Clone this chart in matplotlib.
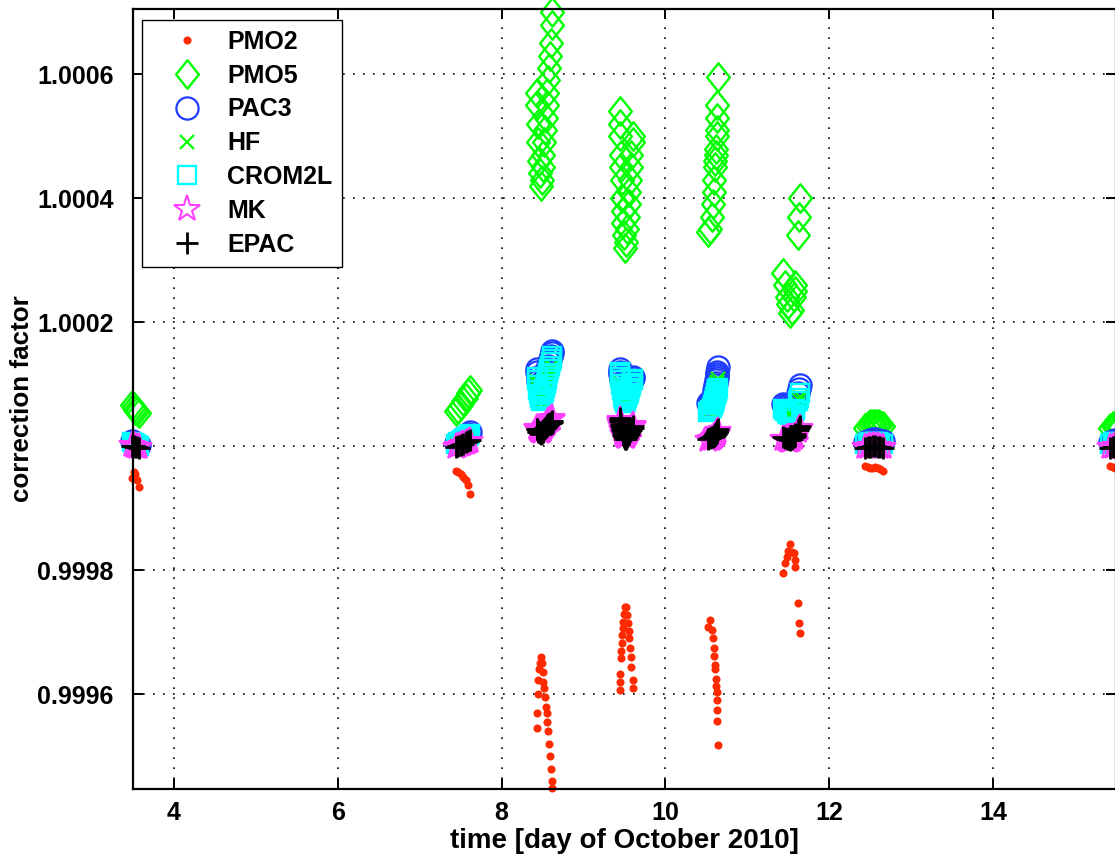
import matplotlib
matplotlib.use('Agg')
import matplotlib.pyplot as plt
from matplotlib.path import Path

plt.rcParams['font.family'] = ['Liberation Sans', 'DejaVu Sans']
plt.rcParams['font.weight'] = 'bold'
plt.rcParams['axes.labelweight'] = 'bold'

# ---------------- data ----------------
time_day = [
    3.49, 3.51, 3.53, 3.55, 3.57,
    7.44, 7.47, 7.50, 7.53, 7.56, 7.59, 7.61,
    8.430, 8.435, 8.440, 8.450, 8.460, 8.470, 8.480, 8.490, 8.500, 8.510, 8.520,
    8.530, 8.540, 8.550, 8.560, 8.570, 8.580, 8.590, 8.600, 8.610, 8.620,
    9.440, 9.443, 9.447, 9.455, 9.460, 9.464, 9.475, 9.480, 9.487, 9.492, 9.503,
    9.524, 9.536, 9.548, 9.555, 9.560, 9.569, 9.577, 9.585, 9.600, 9.607,
    10.524, 10.545, 10.569, 10.577, 10.590, 10.597, 10.602, 10.609, 10.614, 10.618,
    10.624, 10.628, 10.630, 10.634, 10.646,
    11.437, 11.461, 11.478, 11.495, 11.519, 11.544, 11.570, 11.576, 11.581, 11.617, 11.629, 11.645,
    12.44, 12.47, 12.50, 12.53, 12.56, 12.59, 12.62, 12.65,
    15.43, 15.46, 15.49, 15.52, 15.55,
]

pmo2 = [
    0.999948, 0.999959, 0.999955, 0.999945, 0.999934,
    0.999960, 0.999958, 0.999955, 0.999950, 0.999945, 0.999937, 0.999923,
    0.999545, 0.999570, 0.999600, 0.999623, 0.999640, 0.999650, 0.999660, 0.999650, 0.999636, 0.999620, 0.999610,
    0.999595, 0.999580, 0.999570, 0.999555, 0.999540, 0.999520, 0.999500, 0.999480, 0.999460, 0.999448,
    0.999606, 0.999620, 0.999632, 0.999658, 0.999670, 0.999682, 0.999695, 0.999706, 0.999717, 0.999729, 0.999740,
    0.999740, 0.999727, 0.999714, 0.999702, 0.999690, 0.999675, 0.999660, 0.999644, 0.999623, 0.999610,
    0.999709, 0.999720, 0.999703, 0.999691, 0.999675, 0.999661, 0.999647, 0.999641, 0.999625, 0.999613,
    0.999604, 0.999590, 0.999574, 0.999557, 0.999518,
    0.999796, 0.999811, 0.999821, 0.999831, 0.999842, 0.999830, 0.999828, 0.999816, 0.999805, 0.999747, 0.999714, 0.999698,
    0.999968, 0.999966, 0.999965, 0.999965, 0.999966, 0.999965, 0.999963, 0.999960,
    0.999968, 0.999966, 0.999965, 0.999964, 0.999963,
]

pmo5 = [
    1.000066, 1.000063, 1.000059, 1.000056, 1.000053,
    1.000056, 1.000060, 1.000066, 1.000072, 1.000078, 1.000085, 1.000090,
    1.000570, 1.000550, 1.000520, 1.000490, 1.000460, 1.000440, 1.000420, 1.000430, 1.000450, 1.000470, 1.000490,
    1.000510, 1.000530, 1.000550, 1.000570, 1.000590, 1.000610, 1.000630, 1.000650, 1.000680, 1.000700,
    1.000540, 1.000520, 1.000500, 1.000470, 1.000450, 1.000430, 1.000400, 1.000380, 1.000360, 1.000340, 1.000320,
    1.000330, 1.000350, 1.000370, 1.000390, 1.000410, 1.000430, 1.000450, 1.000470, 1.000490, 1.000500,
    1.000345, 1.000350, 1.000370, 1.000390, 1.000410, 1.000430, 1.000450, 1.000460, 1.000470, 1.000480,
    1.000500, 1.000510, 1.000530, 1.000550, 1.000595,
    1.000280, 1.000260, 1.000240, 1.000230, 1.000215, 1.000220, 1.000240, 1.000250, 1.000260, 1.000340, 1.000370, 1.000400,
    1.000030, 1.000033, 1.000035, 1.000036, 1.000036, 1.000035, 1.000034, 1.000032,
    1.000030, 1.000032, 1.000033, 1.000032, 1.000031,
]

pac3 = [
    1.000008, 1.000006, 1.000004, 1.000003, 1.000002,
    1.000005, 1.000008, 1.000011, 1.000014, 1.000017, 1.000020, 1.000022,
    1.000125, 1.000120, 1.000112, 1.000105, 1.000100, 1.000095, 1.000090, 1.000092, 1.000096, 1.000100, 1.000105,
    1.000110, 1.000115, 1.000120, 1.000125, 1.000130, 1.000135, 1.000140, 1.000145, 1.000150, 1.000153,
    1.000124, 1.000120, 1.000117, 1.000112, 1.000108, 1.000104, 1.000100, 1.000096, 1.000092, 1.000088, 1.000084,
    1.000084, 1.000088, 1.000092, 1.000095, 1.000098, 1.000101, 1.000104, 1.000107, 1.000110, 1.000112,
    1.000070, 1.000072, 1.000076, 1.000080, 1.000085, 1.000090, 1.000094, 1.000098, 1.000102, 1.000106,
    1.000110, 1.000113, 1.000116, 1.000120, 1.000127,
    1.000068, 1.000066, 1.000064, 1.000062, 1.000060, 1.000062, 1.000066, 1.000068, 1.000070, 1.000085, 1.000092, 1.000098,
    1.000006, 1.000008, 1.000010, 1.000011, 1.000011, 1.000010, 1.000009, 1.000008,
    1.000007, 1.000009, 1.000010, 1.000009, 1.000008,
]

hf = [
    1.000010, 1.000008, 1.000006, 1.000004, 1.000003,
    1.000004, 1.000006, 1.000008, 1.000010, 1.000011, 1.000013, 1.000015,
    1.000105, 1.000100, 1.000092, 1.000085, 1.000080, 1.000075, 1.000070, 1.000072, 1.000076, 1.000080, 1.000085,
    1.000090, 1.000095, 1.000100, 1.000105, 1.000110, 1.000114, 1.000118, 1.000122, 1.000126, 1.000130,
    1.000104, 1.000100, 1.000097, 1.000092, 1.000088, 1.000084, 1.000080, 1.000076, 1.000072, 1.000068, 1.000065,
    1.000066, 1.000069, 1.000072, 1.000075, 1.000078, 1.000081, 1.000084, 1.000087, 1.000090, 1.000093,
    1.000055, 1.000058, 1.000062, 1.000066, 1.000070, 1.000074, 1.000078, 1.000082, 1.000086, 1.000090,
    1.000094, 1.000098, 1.000101, 1.000104, 1.000108,
    1.000055, 1.000052, 1.000050, 1.000048, 1.000046, 1.000048, 1.000052, 1.000054, 1.000056, 1.000068, 1.000074, 1.000080,
    1.000006, 1.000008, 1.000010, 1.000011, 1.000011, 1.000010, 1.000009, 1.000008,
    1.000006, 1.000008, 1.000009, 1.000008, 1.000007,
]

crom2l = [
    1.000006, 1.000005, 1.000003, 1.000002, 1.000001,
    1.000003, 1.000006, 1.000009, 1.000012, 1.000015, 1.000017, 1.000019,
    1.000112, 1.000106, 1.000098, 1.000090, 1.000084, 1.000078, 1.000072, 1.000074, 1.000078, 1.000083, 1.000088,
    1.000094, 1.000100, 1.000106, 1.000112, 1.000118, 1.000124, 1.000130, 1.000135, 1.000140, 1.000145,
    1.000120, 1.000116, 1.000112, 1.000106, 1.000100, 1.000095, 1.000090, 1.000085, 1.000080, 1.000075, 1.000070,
    1.000072, 1.000077, 1.000082, 1.000086, 1.000090, 1.000094, 1.000098, 1.000102, 1.000106, 1.000108,
    1.000055, 1.000058, 1.000062, 1.000066, 1.000070, 1.000073, 1.000076, 1.000080, 1.000083, 1.000086,
    1.000088, 1.000090, 1.000091, 1.000092, 1.000094,
    1.000060, 1.000057, 1.000054, 1.000052, 1.000050, 1.000052, 1.000056, 1.000058, 1.000060, 1.000072, 1.000078, 1.000085,
    1.000003, 1.000005, 1.000006, 1.000007, 1.000007, 1.000006, 1.000005, 1.000004,
    1.000004, 1.000006, 1.000007, 1.000006, 1.000005,
]

mk = [
    1.000002, 1.000001, 1.000000, 0.999999, 0.999998,
    0.999998, 1.000000, 1.000002, 1.000003, 1.000005, 1.000006, 1.000008,
    1.000030, 1.000029, 1.000027, 1.000026, 1.000025, 1.000024, 1.000023, 1.000024, 1.000026, 1.000028, 1.000030,
    1.000032, 1.000034, 1.000036, 1.000038, 1.000040, 1.000041, 1.000042, 1.000043, 1.000044, 1.000045,
    1.000042, 1.000040, 1.000038, 1.000035, 1.000032, 1.000029, 1.000026, 1.000022, 1.000019, 1.000016, 1.000014,
    1.000015, 1.000017, 1.000020, 1.000022, 1.000024, 1.000026, 1.000028, 1.000030, 1.000032, 1.000034,
    1.000010, 1.000011, 1.000012, 1.000013, 1.000014, 1.000015, 1.000016, 1.000017, 1.000018, 1.000019,
    1.000020, 1.000021, 1.000022, 1.000023, 1.000024,
    1.000012, 1.000011, 1.000010, 1.000009, 1.000008, 1.000010, 1.000013, 1.000015, 1.000017, 1.000024, 1.000027, 1.000030,
    0.999998, 0.999999, 1.000000, 1.000001, 1.000001, 1.000000, 0.999999, 0.999998,
    0.999998, 0.999999, 1.000000, 0.999999, 0.999998,
]

epac = [
    1.000001, 1.000000, 0.999999, 0.999998, 0.999997,
    0.999998, 1.000000, 1.000002, 1.000004, 1.000006, 1.000008, 1.000010,
    1.000028, 1.000027, 1.000025, 1.000023, 1.000022, 1.000021, 1.000020, 1.000021, 1.000023, 1.000025, 1.000027,
    1.000029, 1.000031, 1.000033, 1.000034, 1.000035, 1.000036, 1.000037, 1.000038, 1.000039, 1.000040,
    1.000045, 1.000042, 1.000040, 1.000036, 1.000033, 1.000030, 1.000026, 1.000022, 1.000018, 1.000014, 1.000011,
    1.000012, 1.000015, 1.000018, 1.000020, 1.000022, 1.000024, 1.000026, 1.000028, 1.000030, 1.000032,
    1.000012, 1.000013, 1.000014, 1.000015, 1.000016, 1.000017, 1.000018, 1.000019, 1.000020, 1.000021,
    1.000022, 1.000023, 1.000024, 1.000025, 1.000027,
    1.000014, 1.000013, 1.000012, 1.000011, 1.000010, 1.000012, 1.000015, 1.000017, 1.000019, 1.000026, 1.000029, 1.000032,
    0.999997, 0.999998, 0.999999, 1.000000, 1.000000, 0.999999, 0.999998, 0.999997,
    0.999997, 0.999998, 0.999999, 0.999998, 0.999997,
]

x_ticks = [4, 6, 8, 10, 12, 14]
y_ticks = [0.9996, 0.9998, 1.0000, 1.0002, 1.0004, 1.0006]
y_tick_labels = ['0.9996', '0.9998', '', '1.0002', '1.0004', '1.0006']

# ---------------- figure ----------------
W, H = 1115, 859
fig = plt.figure(figsize=(W / 100, H / 100), dpi=100)
ax_left, ax_right, ax_top, ax_bot = 133, 1116, 9, 789
ax = fig.add_axes([ax_left / W, 1 - ax_bot / H, (ax_right - ax_left) / W, (ax_bot - ax_top) / H])

diamond = Path([(0, 1), (0.8, 0), (0, -1), (-0.8, 0), (0, 1)],
               [Path.MOVETO, Path.LINETO, Path.LINETO, Path.LINETO, Path.CLOSEPOLY])

common = dict(linestyle='none', clip_on=False)
ax.plot(time_day, pmo2, marker='o', ms=4.8, color='#FF2A00', mec='#FF2A00', label='PMO2', **common)
ax.plot(time_day, pmo5, marker=diamond, ms=20.5, mfc='none', mec='#00FF00', mew=1.7, label='PMO5', **common)
ax.plot(time_day, pac3, marker='o', ms=16, mfc='none', mec='#1F3CFF', mew=1.6, label='PAC3', **common)
ax.plot(time_day, hf, marker='x', ms=9.5, color='#00FF00', mew=1.6, label='HF', **common)
ax.plot(time_day, crom2l, marker='s', ms=12.5, mfc='none', mec='#00FFFF', mew=1.7, label='CROM2L', **common)
ax.plot(time_day, mk, marker='*', ms=19.5, mfc='none', mec='#FF40FF', mew=1.5, label='MK', **common)
ax.plot(time_day, epac, marker='+', ms=16, color='black', mew=2.0, label='EPAC', **common)

ax.set_xlim(3.5, 15.5)
ax.set_ylim(0.999447, 1.000705)
ax.set_xticks(x_ticks)
ax.set_xticklabels([str(v) for v in x_ticks])
ax.set_yticks(y_ticks)
ax.set_yticklabels(y_tick_labels)

ax.set_axisbelow(True)
ax.grid(True, color='black', linestyle=(0, (1, 5)), linewidth=1.2)
ax.tick_params(direction='in', length=7, width=1.4, top=True, right=True,
               labelsize=18, colors='black')
ax.tick_params(axis='y', pad=14)
ax.tick_params(axis='x', pad=9)
for s in ax.spines.values():
    s.set_linewidth(1.6)

ax.set_xlabel('time [day of October 2010]', fontsize=20, fontweight='bold', labelpad=2)
ax.set_ylabel('correction factor', fontsize=18.7, fontweight='bold', labelpad=2)

leg = ax.legend(loc='upper left', bbox_to_anchor=(142 / W, 1 - 20 / H), bbox_transform=fig.transFigure,
                borderaxespad=0, fancybox=False, framealpha=1, edgecolor='black',
                prop={'size': 18, 'weight': 'bold'}, handlelength=2.8, handletextpad=0.2,
                labelspacing=0.39, borderpad=0.4, numpoints=1)
leg.get_frame().set_linewidth(1.0)

fig.savefig('out.png', dpi=100)
